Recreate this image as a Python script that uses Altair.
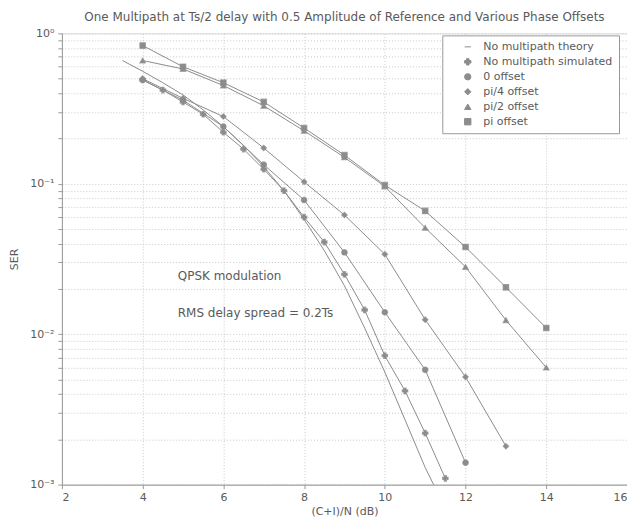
import altair as alt
import pandas as pd

# ---- data ----
theory_x = [3.5, 4, 4.5, 5, 5.5, 6, 6.5, 7, 7.5, 8, 8.5, 9, 9.5, 10, 10.5, 11, 11.25]
theory_y = [0.66, 0.56, 0.47, 0.39, 0.31, 0.24, 0.18, 0.13, 0.09, 0.058, 0.036, 0.021,
            0.011, 0.0056, 0.0027, 0.0013, 0.00095]

sim_x = [4, 4.5, 5, 5.5, 6, 6.5, 7, 7.5, 8, 8.5, 9, 9.5, 10, 10.5, 11, 11.5]
sim_y = [0.49, 0.42, 0.35, 0.29, 0.22, 0.17, 0.125, 0.09, 0.06, 0.041, 0.025, 0.0145,
         0.0072, 0.0042, 0.0022, 0.0011]

off0_x = [4, 5, 6, 7, 8, 9, 10, 11, 12]
off0_y = [0.49, 0.36, 0.24, 0.134, 0.078, 0.035, 0.014, 0.0058, 0.0014]

offpi4_x = [4, 5, 6, 7, 8, 9, 10, 11, 12, 13]
offpi4_y = [0.50, 0.37, 0.28, 0.173, 0.103, 0.062, 0.034, 0.0125, 0.0052, 0.0018]

offpi2_x = [4, 5, 6, 7, 8, 9, 10, 11, 12, 13, 14]
offpi2_y = [0.66, 0.58, 0.45, 0.33, 0.225, 0.15, 0.096, 0.051, 0.028, 0.0124, 0.006]

offpi_x = [4, 5, 6, 7, 8, 9, 10, 11, 12, 13, 14]
offpi_y = [0.83, 0.60, 0.47, 0.35, 0.235, 0.155, 0.098, 0.066, 0.038, 0.0205, 0.011]

series_names = ["No multipath theory", "No multipath simulated", "0 offset",
                "pi/4 offset", "pi/2 offset", "pi offset"]
series_shapes = ["stroke", "cross", "circle", "diamond", "triangle-up", "square"]

notes_text = ["QPSK modulation", "RMS delay spread = 0.2Ts"]
notes_x = [4.87, 4.87]
notes_y = [0.0242, 0.0138]

x_ticks = [2, 4, 6, 8, 10, 12, 14, 16]
y_ticks = [0.001, 0.002, 0.003, 0.004, 0.005, 0.006, 0.007, 0.008, 0.009,
           0.01, 0.02, 0.03, 0.04, 0.05, 0.06, 0.07, 0.08, 0.09,
           0.1, 0.2, 0.3, 0.4, 0.5, 0.6, 0.7, 0.8, 0.9, 1]

# ---- build table ----
rows = []
for name, xs, ys in [
    (series_names[0], theory_x, theory_y),
    (series_names[1], sim_x, sim_y),
    (series_names[2], off0_x, off0_y),
    (series_names[3], offpi4_x, offpi4_y),
    (series_names[4], offpi2_x, offpi2_y),
    (series_names[5], offpi_x, offpi_y),
]:
    for i, (a, b) in enumerate(zip(xs, ys)):
        rows.append({"snr": a, "ser": b, "series": name, "order": i})
df = pd.DataFrame(rows)
notes = pd.DataFrame({"snr": notes_x, "ser": notes_y, "text": notes_text})

FONT = "DejaVu Sans"
GRAY = "#8c8c8c"
TXT = "#5a5a5a"

x_enc = alt.X("snr:Q", title="(C+I)/N (dB)",
              scale=alt.Scale(domain=[2, 16], nice=False),
              axis=alt.Axis(values=x_ticks, grid=True, gridDash=[1, 2], gridColor="#c8c8c8",
                            tickSize=4, tickColor="#999", domainColor="#999",
                            labelFontSize=11, labelColor=TXT, labelFont=FONT,
                            titleFontSize=11, titleFont=FONT, titleColor=TXT,
                            titleFontWeight="normal", labelPadding=3, titlePadding=3))
y_enc = alt.Y("ser:Q", title="SER",
              scale=alt.Scale(type="log", domain=[0.001, 1], nice=False),
              axis=alt.Axis(values=y_ticks, grid=True, gridDash=[1, 2], gridColor="#c8c8c8",
                            tickSize=4, tickColor="#999", domainColor="#999",
                            labelExpr="datum.value == 1 ? '10⁰' : datum.value == 0.1 ? '10⁻¹' : datum.value == 0.01 ? '10⁻²' : datum.value == 0.001 ? '10⁻³' : ''",
                            labelFontSize=11, labelColor=TXT, labelFont=FONT,
                            titleFontSize=11, titleFont=FONT, titleColor=TXT,
                            titleFontWeight="normal", labelPadding=4, titlePadding=10))

color_scale = alt.Scale(domain=series_names, range=[GRAY] * 6)
shape_scale = alt.Scale(domain=series_names, range=series_shapes)

legend = alt.Legend(title=None, orient="none", legendX=381, legendY=2,
                    fillColor="white", strokeColor="#999", padding=6,
                    labelFont=FONT, labelFontSize=11, labelColor=TXT,
                    symbolSize=40, symbolStrokeWidth=1, rowPadding=3,
                    symbolOffset=14, labelOffset=10, labelLimit=220)

lines = alt.Chart(df).mark_line(strokeWidth=1, clip=True).encode(
    x=x_enc, y=y_enc,
    color=alt.Color("series:N", scale=color_scale, legend=legend),
    shape=alt.Shape("series:N", scale=shape_scale, legend=legend),
    order="order:Q",
)

points = alt.Chart(df).transform_filter(
    alt.datum.series != series_names[0]
).mark_point(size=30, strokeWidth=1.2, filled=False, clip=True).encode(
    x="snr:Q", y="ser:Q",
    color=alt.Color("series:N", scale=color_scale, legend=legend),
    shape=alt.Shape("series:N", scale=shape_scale, legend=legend),
)

texts = alt.Chart(notes).mark_text(align="left", baseline="middle", fontSize=12,
                                   font=FONT, color=TXT).encode(
    x="snr:Q", y="ser:Q", text="text:N")

chart = alt.layer(lines, points, texts).properties(
    width=566, height=452,
    title=alt.TitleParams("One Multipath at Ts/2 delay with 0.5 Amplitude of Reference and Various Phase Offsets",
                          fontSize=12, font=FONT, color=TXT, fontWeight="normal",
                          anchor="middle", offset=3),
    autosize=alt.AutoSizeParams(type="none"),
    padding={"left": 54, "top": 25, "right": 0, "bottom": 35},
).configure_view(stroke="#999", strokeWidth=1).configure(background="white")

chart.save("out.html", embed_options={"renderer": "svg", "actions": False})
